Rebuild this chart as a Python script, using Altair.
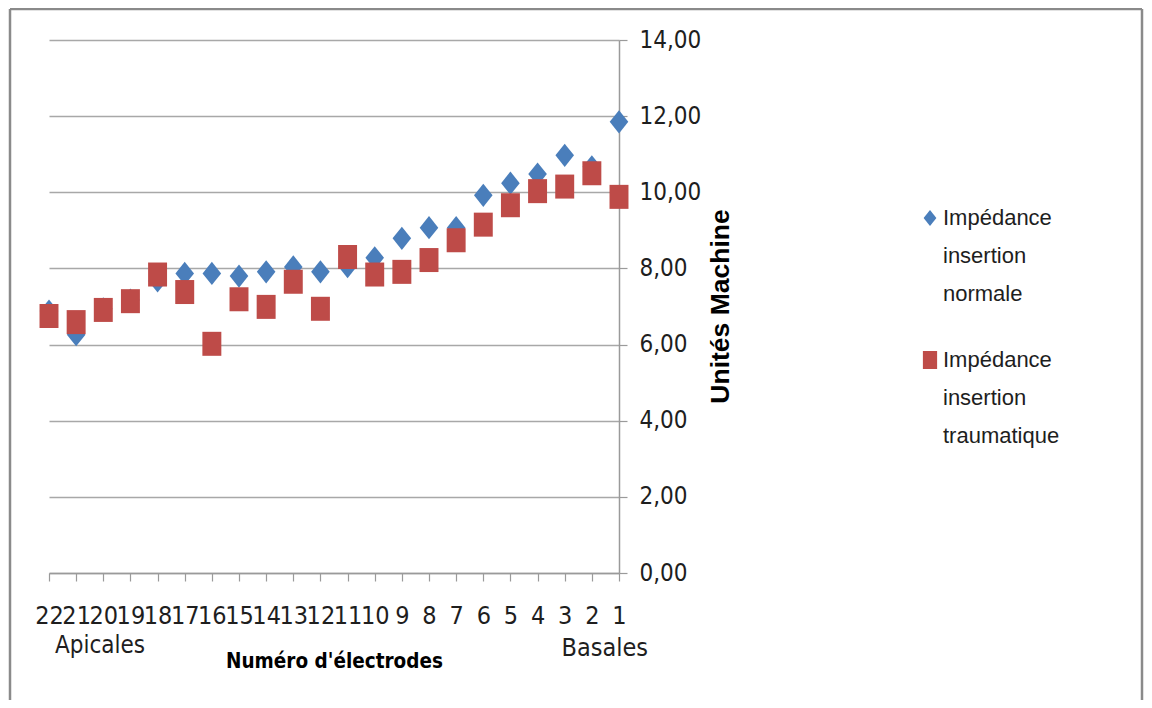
import altair as alt
import pandas as pd

# ---- data ----
electrodes = ["22", "21", "20", "19", "18", "17", "16", "15", "14", "13", "12",
              "11", "10", "9", "8", "7", "6", "5", "4", "3", "2", "1"]
normale = [6.88, 6.26, 6.94, 7.17, 7.67, 7.87, 7.87, 7.80, 7.91, 8.04, 7.91,
           8.05, 8.28, 8.79, 9.07, 9.07, 9.92, 10.24, 10.48, 10.97, 10.67, 11.85]
traumatique = [6.75, 6.59, 6.91, 7.14, 7.84, 7.38, 6.02, 7.19, 6.99, 7.65, 6.94,
               8.30, 7.84, 7.91, 8.22, 8.74, 9.15, 9.66, 10.03, 10.15, 10.50, 9.88]
series_names = ["Impédance insertion normale", "Impédance insertion traumatique"]
legend_lines = [["Impédance", "insertion", "normale"],
                ["Impédance", "insertion", "traumatique"]]
y_ticks = [0, 2, 4, 6, 8, 10, 12, 14]
end_labels = ["Apicales", "Basales"]

rows = []
for s, vals in zip(series_names, [normale, traumatique]):
    for e, v in zip(electrodes, vals):
        rows.append({"electrode": e, "serie": s, "valeur": v})
df = pd.DataFrame(rows)

NARROW = "Liberation Sans Narrow, Arial Narrow, DejaVu Sans Condensed, sans-serif"
REG = "Liberation Sans, Arial, sans-serif"
DIAMOND = "M0,-1L0.8,0L0,1L-0.8,0Z"
SQUARE = "M-0.79,-1L0.79,-1L0.79,1L-0.79,1Z"
COLORS = ["#4A7EBB", "#BE4B48"]
GRAY = "#9a9a9a"
TXT = "#1e1e1e"

x_enc = alt.X(
    "electrode:N",
    sort=electrodes,
    scale=alt.Scale(type="point", padding=0, domain=electrodes),
    axis=alt.Axis(
        title="Numéro d'électrodes",
        labelAngle=0,
        labelFont=NARROW,
        labelFontSize=25,
        labelColor=TXT,
        labelPadding=22,
        labelOverlap=False,
        labelFlush=False,
        tickSize=8,
        tickColor=GRAY,
        tickWidth=1.2,
        domainColor=GRAY,
        domainWidth=1.5,
        grid=False,
        titleFont=NARROW,
        titleFontWeight="bold",
        titleFontSize=20.5,
        titleColor="#000000",
        titleY=88,
        titleBaseline="middle",
    ),
)

y_enc = alt.Y(
    "valeur:Q",
    scale=alt.Scale(domain=[0, 14], nice=False, zero=True),
    axis=alt.Axis(
        orient="right",
        values=y_ticks,
        labelExpr="replace(format(datum.value, '.2f'), '.', ',')",
        labelFont=NARROW,
        labelFontSize=24,
        labelColor=TXT,
        labelPadding=12,
        labelBaseline="middle",
        tickSize=8,
        tickColor=GRAY,
        tickWidth=1.2,
        domainColor=GRAY,
        domainWidth=1.5,
        grid=True,
        gridColor="#a8a8a8",
        gridWidth=1.5,
        title="Unités Machine",
        titleFont=REG,
        titleFontWeight="bold",
        titleFontSize=26.5,
        titleColor="#000000",
        titleAngle=270,
        titleX=101,
        titleY=266,
        titleAlign="center",
        titleBaseline="middle",
    ),
)

points = alt.Chart(df).mark_point(filled=True, opacity=1).encode(
    x=x_enc,
    y=y_enc,
    shape=alt.Shape("serie:N", scale=alt.Scale(domain=series_names, range=[DIAMOND, SQUARE]), legend=None),
    color=alt.Color("serie:N", scale=alt.Scale(domain=series_names, range=COLORS), legend=None),
    size=alt.Size("serie:N", scale=alt.Scale(domain=series_names, range=[540, 576]), legend=None),
)

ends = pd.DataFrame({"electrode": [electrodes[0], electrodes[-1]], "txt": end_labels})
apic = alt.Chart(ends.iloc[[0]]).mark_text(
    align="left", baseline="middle", dx=6, font=NARROW, fontSize=24, color=TXT
).encode(x=alt.X("electrode:N", sort=electrodes), y=alt.value(606), text="txt:N")
bas = alt.Chart(ends.iloc[[1]]).mark_text(
    align="right", baseline="middle", dx=29, font=NARROW, fontSize=25, color=TXT
).encode(x=alt.X("electrode:N", sort=electrodes), y=alt.value(608), text="txt:N")

# manual legend (right side)
leg_layers = []
for i, (s, lines) in enumerate(zip(series_names, legend_lines)):
    ycen = 178 + i * 142
    sym = alt.Chart(pd.DataFrame({"serie": [s]})).mark_point(
        filled=True, opacity=1, shape=[DIAMOND, SQUARE][i], size=[256, 324][i], color=COLORS[i]
    ).encode(x=alt.value(881), y=alt.value(ycen))
    txt = alt.Chart(pd.DataFrame({"serie": [s]})).mark_text(
        align="left", baseline="middle", font=REG, fontSize=22, color=TXT, lineHeight=38
    ).encode(x=alt.value(894), y=alt.value(ycen), text=alt.value(lines))
    leg_layers += [sym, txt]

# outer frame
frame_left = alt.Chart(pd.DataFrame({"a": [0]})).mark_rule(color="#8a8a8a", strokeWidth=2.5).encode(
    x=alt.value(-39), y=alt.value(-31), y2=alt.value(700))
frame_right = alt.Chart(pd.DataFrame({"a": [0]})).mark_rule(color="#8a8a8a", strokeWidth=2.5).encode(
    x=alt.value(1093), y=alt.value(-31), y2=alt.value(700))
frame_top = alt.Chart(pd.DataFrame({"a": [0]})).mark_rule(color="#8a8a8a", strokeWidth=2.5).encode(
    x=alt.value(-39), x2=alt.value(1093), y=alt.value(-31))

chart = alt.layer(points, apic, bas, *leg_layers, frame_left, frame_right, frame_top).properties(
    width=570,
    height=533,
    padding={"left": 41, "top": 32, "right": 525, "bottom": 127},
    autosize=alt.AutoSizeParams(type="none"),
    background="white",
).configure_view(stroke=None)

chart.save("out.html", embed_options={"renderer": "svg", "actions": False})
